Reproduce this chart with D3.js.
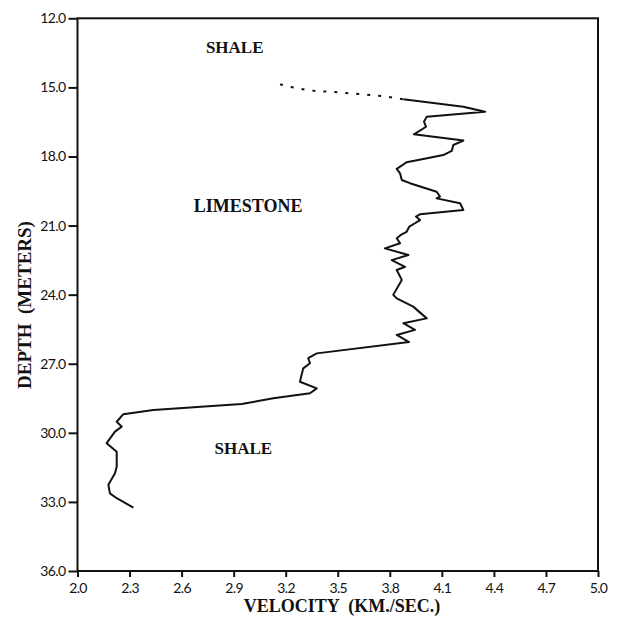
<!DOCTYPE html>
<meta charset="utf-8">
<script src="https://d3js.org/d3.v7.min.js"></script>
<style>
  body { margin: 0; background: #fff; }
  .tick text { font-family: Lato, "DejaVu Sans", sans-serif; font-size: 14px; letter-spacing: -0.6px; fill: #111; }
  .lbl { font-family: "Liberation Serif", "Times New Roman", serif; font-weight: bold; fill: #111; }
</style>
<div id="my_dataviz"></div>
<script>
  var width = 627
  var height = 623

  // velocity log (km/s) against depth (m)
  var velocity = [3.878, 4.224, 4.349, 4.013, 3.997, 4.009, 3.939, 4.224, 4.166, 4.157, 4.108, 3.993,
                  3.897, 3.840, 3.859, 3.869, 3.916, 4.070, 4.089, 4.070, 4.205, 4.224, 3.974, 3.951,
                  3.974, 3.945, 3.912, 3.897, 3.869, 3.840, 3.859, 3.772, 3.907, 3.811, 3.888, 3.840,
                  3.869, 3.820, 3.840, 3.935, 4.013, 3.878, 3.945, 3.840, 3.911, 3.379, 3.330, 3.340,
                  3.301, 3.282, 3.379, 3.340, 3.129, 2.946, 2.437, 2.264, 2.226, 2.255, 2.216, 2.168,
                  2.226, 2.226, 2.216, 2.178, 2.187, 2.226, 2.322]
  var depth =    [15.52, 15.84, 16.06, 16.27, 16.49, 16.71, 17.04, 17.31, 17.50, 17.76, 17.94, 18.11,
                  18.25, 18.54, 18.73, 19.02, 19.16, 19.53, 19.74, 19.82, 20.03, 20.32, 20.51, 20.61,
                  20.76, 20.90, 21.05, 21.27, 21.38, 21.55, 21.77, 21.99, 22.28, 22.50, 22.79, 22.93,
                  23.36, 24.01, 24.16, 24.52, 25.03, 25.24, 25.53, 25.75, 26.06, 26.55, 26.76, 26.98,
                  27.20, 27.78, 28.07, 28.28, 28.50, 28.75, 29.01, 29.19, 29.52, 29.73, 29.95, 30.45,
                  30.82, 31.47, 31.76, 32.26, 32.63, 32.84, 33.25]

  // dotted extrapolation above the log
  var dotVelocity = [3.167, 3.311, 3.513, 3.830, 3.878]
  var dotDepth    = [14.87, 15.10, 15.22, 15.46, 15.52]

  var xTicks = [2.0, 2.3, 2.6, 2.9, 3.2, 3.5, 3.8, 4.1, 4.4, 4.7, 5.0]
  var yTicks = [12.0, 15.0, 18.0, 21.0, 24.0, 27.0, 30.0, 33.0, 36.0]

  var layers = ["SHALE", "LIMESTONE", "SHALE"]
  var layerVel = [2.74, 2.67, 2.79]
  var layerDepth = [13.5, 20.4, 30.9]

  var svg = d3.select("#my_dataviz")
    .append("svg")
      .attr("width", width)
      .attr("height", height)

  var x = d3.scaleLinear().domain([2.0, 5.0]).range([77.5, 598])
  var y = d3.scaleLinear().domain([12.0, 36.0]).range([18.3, 571])

  // frame
  svg.append("rect")
    .attr("x", x(2.0)).attr("y", y(12.0))
    .attr("width", x(5.0) - x(2.0)).attr("height", y(36.0) - y(12.0))
    .attr("fill", "none").attr("stroke", "#111").attr("stroke-width", 2)

  var gx = svg.append("g")
    .attr("transform", "translate(0," + y(36.0) + ")")
    .call(d3.axisBottom(x).tickValues(xTicks).tickFormat(d3.format(".1f")).tickSize(6).tickPadding(6))
  var gy = svg.append("g")
    .attr("transform", "translate(" + x(2.0) + ",0)")
    .call(d3.axisLeft(y).tickValues(yTicks).tickFormat(d3.format(".1f")).tickSize(9).tickPadding(3))
  svg.selectAll(".domain").remove()
  svg.selectAll(".tick line").attr("stroke", "#111").attr("stroke-width", 2)

  var line = d3.line()
    .curve(d3.curveLinear)
    .x(function(d){ return x(d[0]) })
    .y(function(d){ return y(d[1]) })

  svg.append("path")
    .datum(d3.zip(velocity, depth))
    .attr("d", line)
    .attr("fill", "none").attr("stroke", "#111").attr("stroke-width", 2)
    .attr("stroke-linejoin", "round")

  svg.append("path")
    .datum(d3.zip(dotVelocity, dotDepth))
    .attr("d", line.curve(d3.curveMonotoneX))
    .attr("fill", "none").attr("stroke", "#111").attr("stroke-width", 2)
    .attr("stroke-dasharray", "3,8")

  svg.selectAll(".layer")
    .data(layers)
    .enter()
    .append("text")
      .attr("class", "lbl")
      .attr("x", function(d, i){ return x(layerVel[i]) })
      .attr("y", function(d, i){ return y(layerDepth[i]) })
      .attr("font-size", function(d){ return d == "LIMESTONE" ? 18 : 17 })
      .text(function(d){ return d })

  svg.append("text")
    .attr("class", "lbl")
    .attr("x", 342).attr("y", 612)
    .attr("text-anchor", "middle")
    .attr("font-size", 18)
    .attr("xml:space", "preserve")
    .text("VELOCITY  (KM./SEC.)")

  svg.append("text")
    .attr("class", "lbl")
    .attr("transform", "translate(31,305) rotate(-90)")
    .attr("text-anchor", "middle")
    .attr("font-size", 19)
    .attr("xml:space", "preserve")
    .text("DEPTH  (METERS)")
</script>
